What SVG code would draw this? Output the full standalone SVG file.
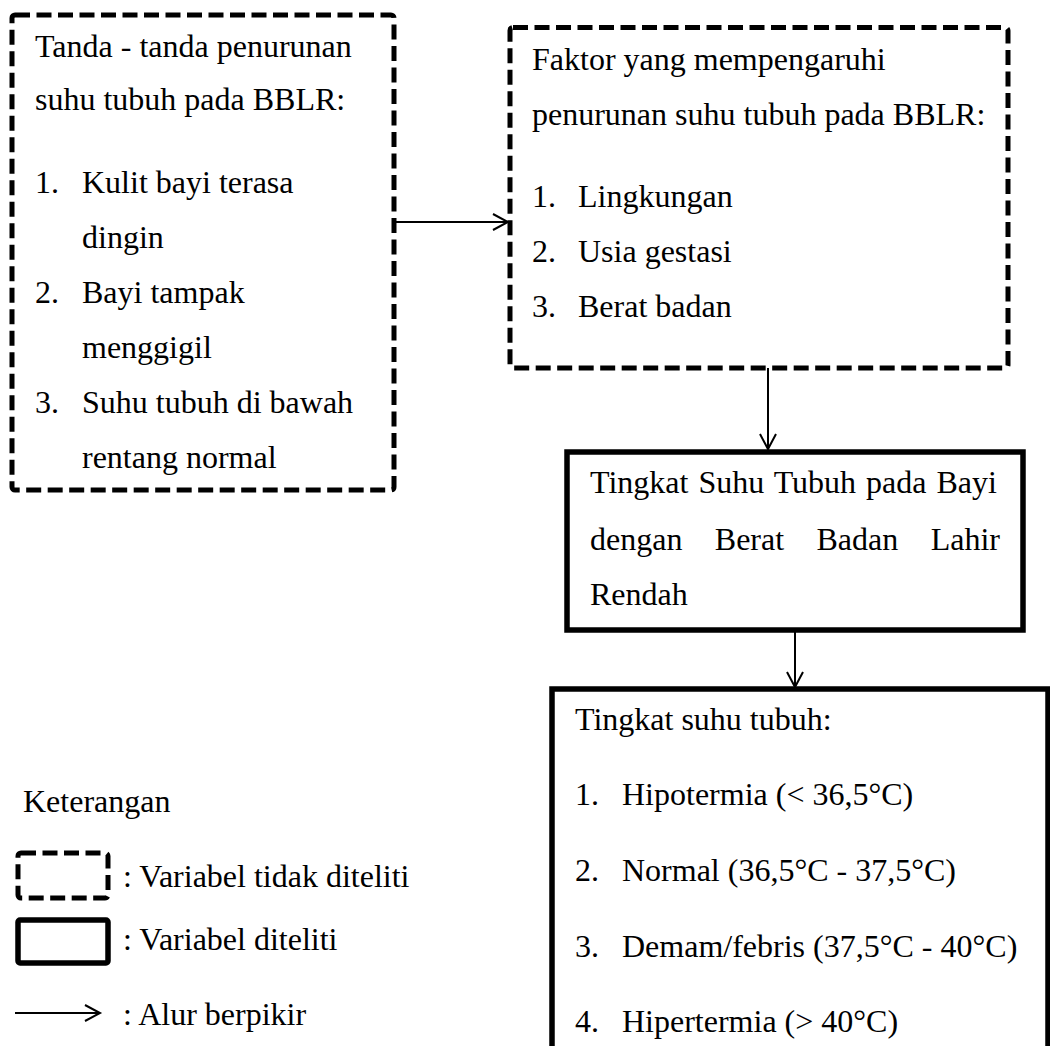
<svg xmlns="http://www.w3.org/2000/svg" width="1050" height="1046" viewBox="0 0 1050 1046">
<style>
text{font-family:"Liberation Serif","Times New Roman",serif;font-size:32px;fill:#000}
.dash{fill:none;stroke:#000;stroke-width:5;stroke-dasharray:15 6.5}
.solid{fill:none;stroke:#000;stroke-width:5.5}
.conn{stroke:#000;stroke-width:2;fill:none}
</style>
<defs>
<marker id="arr" markerUnits="userSpaceOnUse" markerWidth="20" markerHeight="20" refX="16" refY="9" orient="auto">
<path d="M1,1 L16,9 L1,17" fill="none" stroke="#000" stroke-width="2"/>
</marker>
</defs>
<rect width="1050" height="1046" fill="#fff"/>
<g id="node-tanda">
<rect class="dash" x="12" y="15" width="382" height="475" rx="3"/>
<text x="35" y="57">Tanda - tanda penurunan</text>
<text x="35" y="110">suhu tubuh pada BBLR:</text>
<text x="35" y="193">1.</text><text x="82" y="193">Kulit bayi terasa</text>
<text x="82" y="248">dingin</text>
<text x="35" y="303">2.</text><text x="82" y="303">Bayi tampak</text>
<text x="82" y="358">menggigil</text>
<text x="35" y="413">3.</text><text x="82" y="413">Suhu tubuh di bawah</text>
<text x="82" y="468">rentang normal</text>
</g>
<g id="node-faktor">
<rect class="dash" x="510" y="27.5" width="498" height="340.5" rx="3"/>
<text x="532" y="70">Faktor yang mempengaruhi</text>
<text x="532" y="125">penurunan suhu tubuh pada BBLR:</text>
<text x="532" y="207">1.</text><text x="578" y="207">Lingkungan</text>
<text x="532" y="262">2.</text><text x="578" y="262">Usia gestasi</text>
<text x="532" y="317">3.</text><text x="578" y="317">Berat badan</text>
</g>
<g id="node-tingkat">
<rect class="solid" x="567" y="452" width="456" height="178"/>
<text x="590" y="493" style="word-spacing:2px">Tingkat Suhu Tubuh pada Bayi</text>
<text x="590" y="550" style="word-spacing:24.4px">dengan Berat Badan Lahir</text>
<text x="590" y="605">Rendah</text>
</g>
<g id="node-kategori">
<rect class="solid" x="552" y="689" width="496" height="400"/>
<text x="575" y="730">Tingkat suhu tubuh:</text>
<text x="575" y="805">1.</text><text x="622" y="805">Hipotermia (&lt; 36,5°C)</text>
<text x="575" y="881">2.</text><text x="622" y="881">Normal (36,5°C - 37,5°C)</text>
<text x="575" y="957">3.</text><text x="622" y="957">Demam/febris (37,5°C - 40°C)</text>
<text x="575" y="1032">4.</text><text x="622" y="1032">Hipertermia (&gt; 40°C)</text>
</g>
<g id="legend">
<text x="23" y="812">Keterangan</text>
<rect class="dash" x="18" y="853" width="90" height="45" rx="3"/>
<text x="123" y="887">: Variabel tidak diteliti</text>
<rect class="solid" x="18" y="920" width="90" height="43" rx="2"/>
<text x="123" y="950">: Variabel diteliti</text>
<line class="conn" x1="15" y1="1013" x2="100" y2="1013" marker-end="url(#arr)"/>
<text x="123" y="1025">: Alur berpikir</text>
</g>
<g id="connectors">
<line class="conn" x1="396" y1="222" x2="508" y2="222" marker-end="url(#arr)"/>
<line class="conn" x1="768" y1="368" x2="768" y2="449" marker-end="url(#arr)"/>
<line class="conn" x1="795" y1="632" x2="795" y2="687" marker-end="url(#arr)"/>
</g>
</svg>
